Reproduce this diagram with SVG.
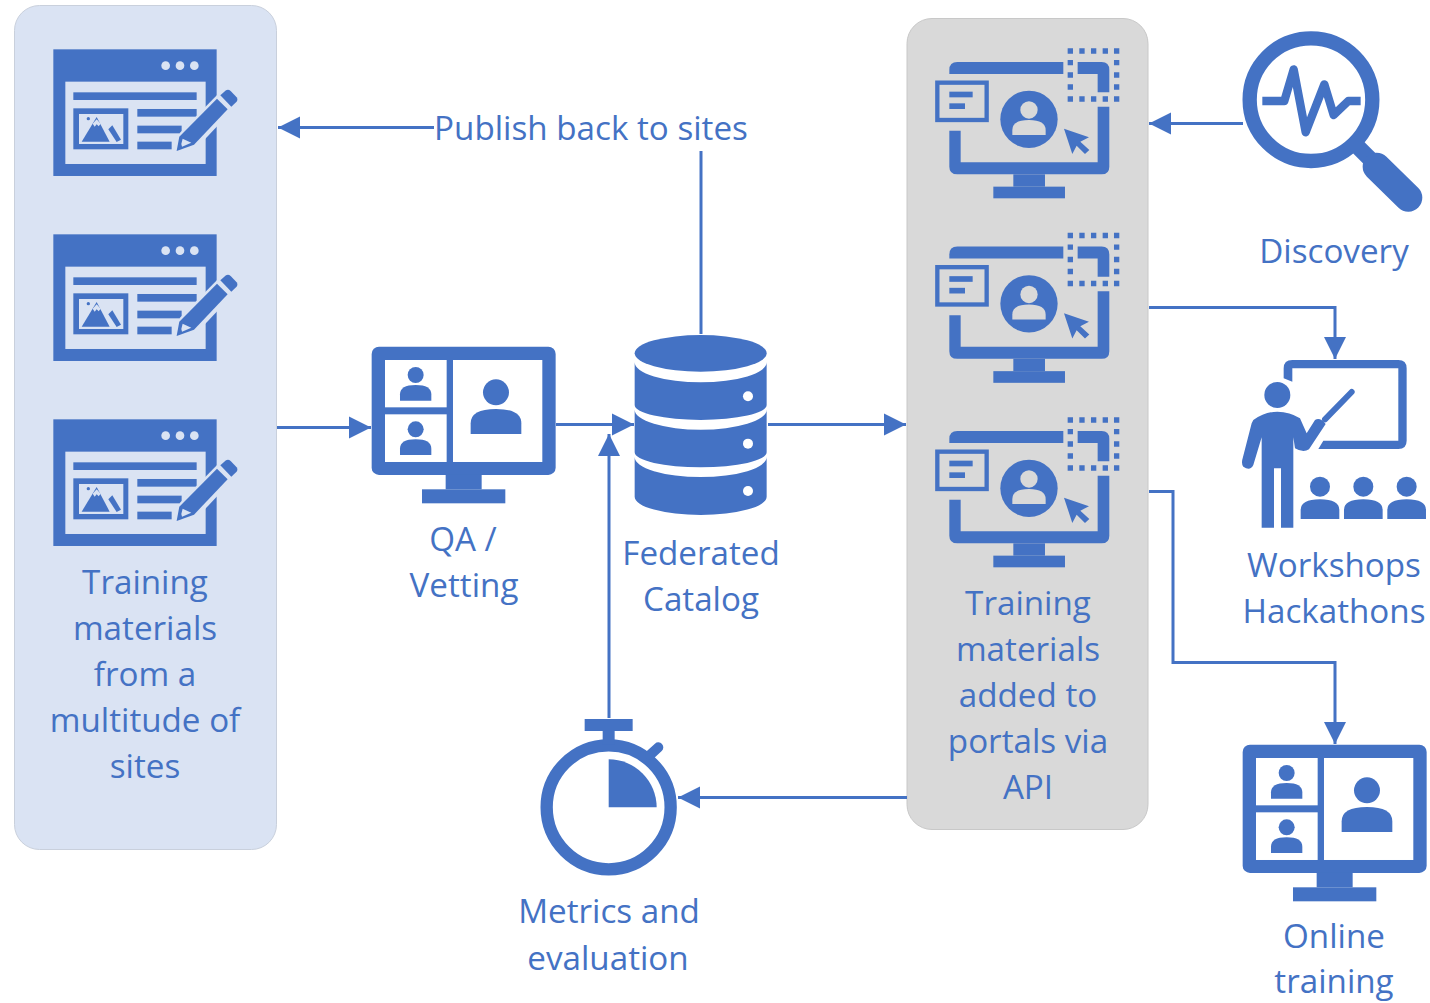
<svg xmlns="http://www.w3.org/2000/svg" width="1430" height="1003" viewBox="0 0 1430 1003">
<style>
text{font-family:"Open Sans","Noto Sans","Liberation Sans",sans-serif;font-size:33.2px;fill:#4472c4;text-anchor:middle}
.b{fill:#4472c4}
.w{fill:#fff}
.l{fill:#dae3f3}
.g{fill:#d9d9d9}
.c{fill:none;stroke:#4472c4;stroke-width:3}
</style>
<defs>
<marker id="arr" markerUnits="userSpaceOnUse" markerWidth="24" markerHeight="24" refX="22" refY="12" orient="auto"><path d="M0,1 L22,12 L0,23 Z" fill="#4472c4"/></marker>
<g id="doc">
<rect class="b" x="40" y="28" width="490" height="380"/>
<rect class="l" x="76" y="125" width="421" height="247"/>
<circle class="l" cx="377" cy="77" r="13"/><circle class="l" cx="420" cy="77" r="13"/><circle class="l" cx="463" cy="77" r="13"/>
<rect class="b" x="100" y="157" width="370" height="23"/>
<rect class="b" x="100" y="205" width="165" height="123"/>
<rect class="l" x="117" y="222" width="133" height="90"/>
<circle class="b" cx="145" cy="236" r="5"/>
<path class="b" d="M125,305 L170,231 L209,305 Z"/>
<path class="l" d="M158,251 L170,238 L182,251 L176,259 L170,253 L164,260 Z"/>
<path class="b" d="M205,268 L217,256 L243,299 L230,306 Z"/>
<rect class="b" x="292" y="207" width="178" height="23"/>
<rect class="b" x="292" y="257" width="133" height="23"/>
<rect class="b" x="292" y="305" width="103" height="23"/>
<path class="l" d="M403,340 L420,278 L560,136 L606,180 L470,324 Z"/>
<path class="b" d="M531,176 L563,208 L462,314 L410,333 L418,290 Z"/>
<path class="l" d="M428,296 L454,308 L426,320 L424,312 Z"/>
<path class="b" d="M541,166 L558,151 Q565,147 572,153 L590,172 Q595,180 589,186 L574,200 Z"/>
</g>
<g id="portal">
<path class="b" d="M73,102 V90 Q73,66 97,66 H415 V102 Z"/>
<path class="b" d="M458,66 H530 Q553,66 553,90 V157 H518 V102 H458 Z"/>
<path class="b" d="M518,200 H553 V380 Q553,403 530,403 H97 Q73,403 73,380 V272 H107 V367 H518 Z"/>
<rect class="b" x="265" y="403" width="95" height="37"/>
<rect class="b" x="205" y="440" width="215" height="35"/>
<rect class="g" x="37" y="128" width="148" height="112" stroke="#4472c4" stroke-width="13"/>
<rect class="b" x="73" y="155" width="70" height="17"/>
<rect class="b" x="73" y="190" width="47" height="17"/>
<circle class="b" cx="312" cy="238" r="86"/>
<circle class="g" cx="312" cy="210" r="26"/>
<path class="g" d="M262,285 V270 Q262,240 312,240 Q362,240 362,270 V285 Z"/>
<path class="b" d="M417,266 L492,292 L466,305 L493,330 L480,342 L455,317 L442,342 Z"/>
<path class="b" d="M428,25h16v16h-16zM463,25h16v16h-16zM498,25h16v16h-16zM533,25h16v16h-16zM567,25h16v16h-16zM428,169h16v16h-16zM463,169h16v16h-16zM498,169h16v16h-16zM533,169h16v16h-16zM567,169h16v16h-16zM428,60h16v16h-16zM428,97h16v16h-16zM428,133h16v16h-16zM567,60h16v16h-16zM567,97h16v16h-16zM567,133h16v16h-16z"/>
</g>
<g id="video">
<rect class="b" x="35" y="35" width="552" height="385" rx="22"/>
<rect class="w" x="75" y="75" width="185" height="142"/>
<rect class="w" x="75" y="238" width="185" height="143"/>
<rect class="w" x="279" y="75" width="268" height="306"/>
<circle class="b" cx="167" cy="120" r="24"/>
<path class="b" d="M120,197 V178 Q120,150 167,150 Q214,150 214,178 V197 Z"/>
<circle class="b" cx="167" cy="283" r="24"/>
<path class="b" d="M120,360 V341 Q120,313 167,313 Q214,313 214,341 V360 Z"/>
<circle class="b" cx="408" cy="172" r="39"/>
<path class="b" d="M332,297 V265 Q332,222 408,222 Q484,222 484,265 V297 Z"/>
<rect class="b" x="257" y="420" width="108" height="43"/>
<rect class="b" x="186" y="463" width="250" height="42"/>
</g>
</defs>
<rect width="1430" height="1003" fill="#fff"/>
<g id="panel-sites"><rect x="14.500" y="5.500" width="262" height="844" rx="25" fill="#dae3f3" stroke="#c9d0dc" stroke-width="1"/></g>
<g id="panel-portals"><rect x="907" y="18.500" width="241" height="811" rx="25" fill="#d9d9d9" stroke="#c8c8c8" stroke-width="1"/></g>
<g id="connectors">
<path class="c" d="M434,127.500 H278" marker-end="url(#arr)"/>
<path class="c" d="M701,151 V334"/>
<path class="c" d="M277,427.500 H371" marker-end="url(#arr)"/>
<path class="c" d="M556,424.500 H634" marker-end="url(#arr)"/>
<path class="c" d="M768,424.500 H906" marker-end="url(#arr)"/>
<path class="c" d="M609,718 V434" marker-end="url(#arr)"/>
<path class="c" d="M907,797.500 H678" marker-end="url(#arr)"/>
<path class="c" d="M1243,123.500 H1149" marker-end="url(#arr)"/>
<path class="c" d="M1149,307.500 H1335 V359" marker-end="url(#arr)"/>
<path class="c" d="M1149,491.500 H1173 V662.500 H1335 V744" marker-end="url(#arr)"/>
</g>
<g id="sites">
<use href="#doc" transform="translate(40,40) scale(.3333)"/>
<use href="#doc" transform="translate(40,225) scale(.3333)"/>
<use href="#doc" transform="translate(40,410) scale(.3333)"/>
<text x="145" y="594">Training</text><text x="145" y="640">materials</text><text x="145" y="686">from a</text><text x="145" y="732">multitude of</text><text x="145" y="778">sites</text>
</g>
<g id="publish"><text x="591" y="140">Publish back to sites</text></g>
<g id="qa">
<use href="#video" transform="translate(360,335) scale(.3333)"/>
<text x="463" y="551">QA /</text><text x="464" y="597">Vetting</text>
</g>
<g id="catalog">
<g transform="translate(620,325) scale(.3333)">
<ellipse class="b" cx="242" cy="85" rx="198" ry="55"/>
<path class="b" d="M44,112 A198,60 0 0 0 440,112 V240 A198,45 0 0 1 44,240 Z"/>
<path class="b" d="M44,254 A198,60 0 0 0 440,254 V382 A198,45 0 0 1 44,382 Z"/>
<path class="b" d="M44,396 A198,60 0 0 0 440,396 V515 A198,55 0 0 1 44,515 Z"/>
<circle class="w" cx="384" cy="214" r="15"/><circle class="w" cx="384" cy="356" r="15"/><circle class="w" cx="384" cy="498" r="15"/>
</g>
<text x="701" y="565">Federated</text><text x="701" y="611">Catalog</text>
</g>
<g id="metrics">
<g transform="translate(530,710) scale(.3333)">
<circle cx="236" cy="292" r="186" fill="none" stroke="#4472c4" stroke-width="37"/>
<rect class="b" x="164" y="27" width="144" height="36"/>
<rect class="b" x="218" y="63" width="36" height="40"/>
<path d="M360,135 L385,112" stroke="#4472c4" stroke-width="30" stroke-linecap="round"/>
<path class="b" d="M236,292 V148 A144,144 0 0 1 380,292 Z"/>
</g>
<text x="609" y="923">Metrics and</text><text x="608" y="970">evaluation</text>
</g>
<g id="portals">
<use href="#portal" transform="translate(925,40) scale(.3333)"/>
<use href="#portal" transform="translate(925,224.500) scale(.3333)"/>
<use href="#portal" transform="translate(925,409) scale(.3333)"/>
<text x="1028" y="615">Training</text><text x="1028" y="661">materials</text><text x="1028" y="707">added to</text><text x="1028" y="753">portals via</text><text x="1028" y="799">API</text>
</g>
<g id="discovery">
<g transform="translate(1235,25) scale(.3333)">
<circle cx="228" cy="224" r="184" fill="none" stroke="#4472c4" stroke-width="43"/>
<path d="M365,362 L435,432" stroke="#4472c4" stroke-width="48"/>
<path d="M425,425 L520,518" stroke="#4472c4" stroke-width="84" stroke-linecap="round"/>
<path d="M82,228 H148 L176,133 L212,322 L268,178 L296,270 L340,228 H377" fill="none" stroke="#4472c4" stroke-width="25" stroke-linejoin="round"/>
</g>
<text x="1334" y="263">Discovery</text>
</g>
<g id="workshops">
<g transform="translate(1235,350) scale(.3333)">
<path class="b" d="M146,85 V55 Q146,30 172,30 H490 Q515,30 515,55 V272 Q515,297 490,297 H250 L265,272 H490 V55 H172 V95 Z"/>
<path d="M270,208 L350,126" stroke="#4472c4" stroke-width="18" stroke-linecap="round"/>
<circle class="b" cx="127" cy="135" r="39"/>
<path class="b" d="M55,210 Q90,185 127,185 Q165,185 195,205 L215,250 L240,210 Q255,200 272,222 L222,298 Q205,310 180,295 L175,262 V533 H138 V355 H117 V533 H80 V262 L55,345 Q45,365 25,350 Q18,340 23,325 L50,220 Z"/>
<circle class="b" cx="255" cy="410" r="30"/><circle class="b" cx="385" cy="410" r="30"/><circle class="b" cx="515" cy="410" r="30"/>
<path class="b" d="M197,507 V480 Q197,448 255,448 Q313,448 313,480 V507 Z"/>
<path class="b" d="M327,507 V480 Q327,448 385,448 Q443,448 443,480 V507 Z"/>
<path class="b" d="M457,507 V480 Q457,448 515,448 Q573,448 573,480 V507 Z"/>
</g>
<text x="1334" y="577">Workshops</text><text x="1334" y="623">Hackathons</text>
</g>
<g id="online">
<use href="#video" transform="translate(1231,733) scale(.3333)"/>
<text x="1334" y="948">Online</text><text x="1334" y="993">training</text>
</g>
</svg>
